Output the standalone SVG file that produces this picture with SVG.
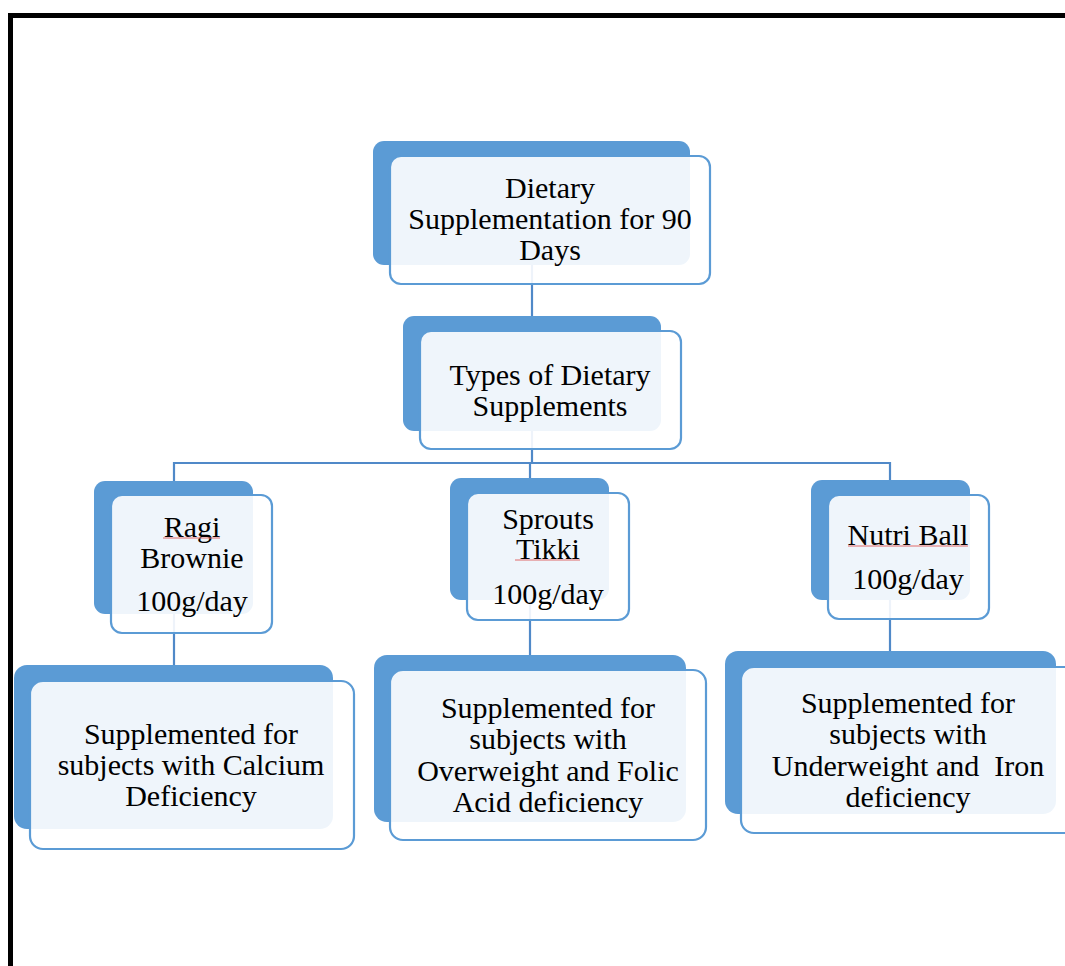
<svg xmlns="http://www.w3.org/2000/svg" width="1065" height="966" viewBox="0 0 1065 966">
  <style>
    .back { fill: #5B9BD5; }
    .front { fill: #FFFFFF; fill-opacity: 0.9; stroke: #5B9BD5; stroke-width: 2.2; }
    .lbl { font-family: "Liberation Serif", "Times New Roman", serif; font-size: 30px; fill: #000; text-anchor: middle; }
    .link { stroke: #5089C8; stroke-width: 2.2; fill: none; }
    .spell { stroke: #E06A6A; stroke-width: 1; fill: none; }
  </style>
  <rect width="1065" height="966" fill="#FFFFFF"/>
  <!-- page frame -->
  <rect x="10.5" y="15.5" width="1100" height="1000" fill="none" stroke="#000" stroke-width="5"/>

  <!-- connectors -->
  <g id="connectors">
    <path class="link" d="M532 265 V316"/>
    <path class="link" d="M532 431 V463"/>
    <path class="link" d="M174 482 V463 H890 V481"/>
    <path class="link" d="M530 463 V478"/>
    <path class="link" d="M174 614 V665"/>
    <path class="link" d="M530 600 V655"/>
    <path class="link" d="M890 600 V651"/>
  </g>

  <g id="node-root">
    <rect class="back" x="373" y="141" width="317" height="124" rx="11"/>
    <rect class="front" x="390" y="156" width="320" height="128" rx="11"/>
    <text class="lbl" x="550" y="198">Dietary</text>
    <text class="lbl" x="550" y="229">Supplementation for 90</text>
    <text class="lbl" x="550" y="260">Days</text>
  </g>

  <g id="node-types">
    <rect class="back" x="403" y="316" width="258" height="115" rx="11"/>
    <rect class="front" x="420" y="331" width="261" height="118" rx="11"/>
    <text class="lbl" x="550" y="385">Types of Dietary</text>
    <text class="lbl" x="550" y="416">Supplements</text>
  </g>

  <g id="node-ragi">
    <rect class="back" x="94" y="481" width="159" height="133" rx="11"/>
    <rect class="front" x="111" y="495" width="161" height="138" rx="11"/>
    <text class="lbl" x="192" y="537">Ragi</text>
    <text class="lbl" x="192" y="568">Brownie</text>
    <text class="lbl" x="192" y="611">100g/day</text>
    <path class="spell" d="M163 538 H220"/>
  </g>

  <g id="node-sprouts">
    <rect class="back" x="450" y="478" width="159" height="122" rx="11"/>
    <rect class="front" x="467" y="493" width="162" height="127" rx="11"/>
    <text class="lbl" x="548" y="529">Sprouts</text>
    <text class="lbl" x="548" y="559">Tikki</text>
    <text class="lbl" x="548" y="604">100g/day</text>
    <path class="spell" d="M515 560 H580"/>
  </g>

  <g id="node-nutri">
    <rect class="back" x="811" y="480" width="159" height="120" rx="11"/>
    <rect class="front" x="828" y="495" width="161" height="124" rx="11"/>
    <text class="lbl" x="908" y="545">Nutri Ball</text>
    <text class="lbl" x="908" y="589">100g/day</text>
    <path class="spell" d="M848 546 H968"/>
  </g>

  <g id="node-calcium">
    <rect class="back" x="14" y="665" width="319" height="164" rx="13"/>
    <rect class="front" x="30" y="681" width="324" height="168" rx="13"/>
    <text class="lbl" x="191" y="744">Supplemented for</text>
    <text class="lbl" x="191" y="775">subjects with Calcium</text>
    <text class="lbl" x="191" y="806">Deficiency</text>
  </g>

  <g id="node-folic">
    <rect class="back" x="374" y="655" width="312" height="167" rx="13"/>
    <rect class="front" x="390" y="670" width="316" height="170" rx="13"/>
    <text class="lbl" x="548" y="718">Supplemented for</text>
    <text class="lbl" x="548" y="749">subjects with</text>
    <text class="lbl" x="548" y="781">Overweight and Folic</text>
    <text class="lbl" x="548" y="812">Acid deficiency</text>
  </g>

  <g id="node-iron">
    <rect class="back" x="725" y="651" width="331" height="163" rx="13"/>
    <rect class="front" x="741" y="667" width="340" height="166" rx="13"/>
    <text class="lbl" x="908" y="713">Supplemented for</text>
    <text class="lbl" x="908" y="744">subjects with</text>
    <text class="lbl" x="908" y="776" xml:space="preserve">Underweight and  Iron</text>
    <text class="lbl" x="908" y="807">deficiency</text>
  </g>
</svg>
